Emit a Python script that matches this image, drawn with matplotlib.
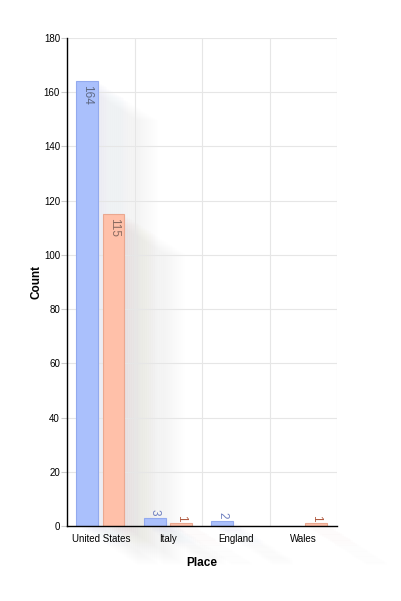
import matplotlib
matplotlib.use("Agg")
import matplotlib.pyplot as plt
from matplotlib.patches import Rectangle
from matplotlib.transforms import offset_copy

plt.rcParams['font.family'] = ['Liberation Sans', 'DejaVu Sans']

places = ["United States", "Italy", "England", "Wales"]
series_a = [164, 3, 2, 0]
series_b = [115, 1, 0, 1]
y_ticks = [0, 20, 40, 60, 80, 100, 120, 140, 160, 180]

fig = plt.figure(figsize=(4.01, 6.01), dpi=100)
ax = fig.add_axes([67/401, 1-526/601, 270/401, 488/601])

ax.set_xlim(-0.5, len(places) - 0.5)
ax.set_ylim(0, 180)

# grid
for yv in y_ticks[1:]:
    ax.axhline(yv, color="#e6e6e6", lw=0.8, zorder=1)
for k in range(len(places)):
    ax.axvline(k + 0.5, color="#e6e6e6", lw=0.8, zorder=1)

w = 0.32
offs = [-0.2, 0.19]
fills = ["#aac0fc", "#ffc0a9"]
edges = ["#93aaee", "#eaa890"]
shadows = ["#a0a6c8", "#c8a498"]
inside_col = ["#5f6a85", "#8a6a60"]
outside_col = ["#6f80c0", "#b05a40"]

N = 36
dx, dy = 68, 44
for s, vals in enumerate([series_a, series_b]):
    for i, v in enumerate(vals):
        if v <= 0:
            continue
        x0 = i + offs[s] - w / 2
        for j in range(N):
            t = (j + 1) / N
            tr = offset_copy(ax.transData, fig=fig, x=dx * t, y=-dy * t, units='dots')
            ax.add_patch(Rectangle((x0, 0), w, v, transform=tr, facecolor=shadows[s],
                                   alpha=0.018 * (1 - t), lw=0, clip_on=False,
                                   zorder=0.5))
    ax.bar([i + offs[s] for i in range(len(places))], vals, width=w,
           color=fills[s], edgecolor=edges[s], linewidth=0.8, zorder=2)
    for i, v in enumerate(vals):
        if v <= 0:
            continue
        xc = i + offs[s]
        if v > 20:
            tr = offset_copy(ax.transData, fig=fig, x=0, y=-4, units='dots')
            ax.text(xc, v, str(v), rotation=-90, ha='center', va='top', fontsize=8.5,
                    color=inside_col[s], transform=tr, zorder=3)
        else:
            tr = offset_copy(ax.transData, fig=fig, x=0, y=2, units='dots')
            ax.text(xc, v, str(v), rotation=-90, ha='center', va='bottom', fontsize=8.5,
                    color=outside_col[s], transform=tr, zorder=3)

ax.set_yticks(y_ticks)
ax.set_xticks(range(len(places)))
ax.set_xticklabels(places)
ax.tick_params(axis='y', length=4, width=0.8, color="#cccccc", labelsize=7, pad=1)
ax.tick_params(axis='x', length=0, labelsize=7, pad=6)

for side in ["top", "right"]:
    ax.spines[side].set_visible(False)
ax.spines["left"].set_color("black")
ax.spines["bottom"].set_color("black")
ax.spines["left"].set_linewidth(1)
ax.spines["bottom"].set_linewidth(1)
ax.spines["left"].set_zorder(4)
ax.spines["bottom"].set_zorder(4)

ax.set_ylabel("Count", fontsize=8.5, fontweight='bold', labelpad=1)
ax.set_xlabel("Place", fontsize=8.5, fontweight='bold', labelpad=9)

fig.savefig("out.png", dpi=100)
